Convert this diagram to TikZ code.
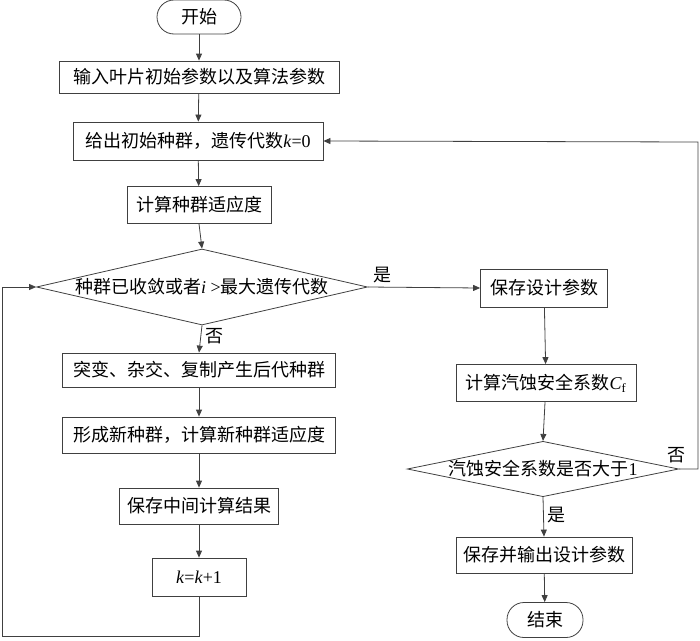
\documentclass[tikz,border=0pt]{standalone}
\usepackage{fontspec}
\setmainfont{Liberation Serif}
\newfontfamily\cjk{Noto Sans CJK SC}
\usetikzlibrary{shapes.geometric,arrows.meta}
\newcommand\en[1]{{\rmfamily #1}}
\begin{document}
\begin{tikzpicture}[x=1pt,y=-1pt]
        \tikzstyle{every node}=[font=\cjk\fontsize{18}{21}\selectfont, inner sep=0pt]
        \tikzstyle{box}=[draw=black!75, line width=0.8pt, rectangle, minimum height=36pt]
        \tikzstyle{term}=[box, rounded corners=17pt, minimum height=34pt]
        \tikzstyle{decide}=[draw=black!75, line width=0.8pt, diamond]
        \tikzstyle{line}=[draw=black!75, line width=0.8pt]
        \tikzstyle{arrow}=[line, -{Triangle[length=7pt,width=6pt]}]
        \useasboundingbox (0,0) rectangle (700,640);
        \node[term, minimum width=84pt] (start) at (199,17) {开始};
        \node[box, minimum width=280pt, minimum height=32pt] (input) at (199,77) {输入叶片初始参数以及算法参数};
        \node[box, minimum width=250pt, minimum height=38pt] (init) at (198,141) {给出初始种群，遗传代数\en{\textit{k}=0}};
        \node[box, minimum width=144pt, minimum height=37pt] (fit) at (199,205) {计算种群适应度};
        \node[decide, aspect=4.36, minimum width=331pt, minimum height=76pt] (conv) at (202,287) {种群已收敛或者\en{\textit{i} >}最大遗传代数};
        \node[box, minimum width=273pt, minimum height=34pt] (mutate) at (199,370) {突变、杂交、复制产生后代种群};
        \node[box, minimum width=273pt, minimum height=36pt] (newpop) at (199,435) {形成新种群，计算新种群适应度};
        \node[box, minimum width=159pt, minimum height=36pt] (keep) at (199,506) {保存中间计算结果};
        \node[box, minimum width=94pt, minimum height=38pt] (incr) at (199,577) {\en{\textit{k}=\textit{k}+1}};
        \node[box, minimum width=127pt, minimum height=38pt] (savepar) at (544,288) {保存设计参数};
        \node[box, minimum width=180pt, minimum height=37pt] (safety) at (546,383) {计算汽蚀安全系数\en{\textit{C}\textsubscript{f}}};
        \node[decide, aspect=4.9, minimum width=270pt, minimum height=55pt] (check) at (543,469) {汽蚀安全系数是否大于\en{1}};
        \node[box, minimum width=176pt, minimum height=36pt] (output) at (544,555) {保存并输出设计参数};
        \node[term, minimum width=76pt, minimum height=35pt] (stop) at (545,620) {结束};
        \coordinate (lb) at (2,636);
        \coordinate (rt) at (698,142);
        \draw[arrow] (start) -- (input);
        \draw[arrow] (input) -- (init);
        \draw[arrow] (init) -- (fit);
        \draw[arrow] (fit.south) -- (conv.north);
        \draw[arrow] (conv.east) -- node[above, pos=0.05, anchor=south west, yshift=4pt] {是} (savepar.west);
        \draw[arrow] (conv.south) -- node[right, pos=0.4, xshift=4pt] {否} (mutate.north);
        \draw[arrow] (mutate) -- (newpop);
        \draw[arrow] (newpop) -- (keep);
        \draw[arrow] (keep) -- (incr);
        \draw[arrow] (incr.south) |- (lb) |- (conv.west);
        \draw[arrow] (savepar) -- (safety);
        \draw[arrow] (safety) -- (check.north);
        \draw[arrow] (check.south) -- node[right, pos=0.45, xshift=4pt] {是} (output.north);
        \draw[arrow] (output) -- (stop);
        \draw[arrow] (check.east) -| (rt) -- (init.east);
        \node (no2) at (676,455) {否};
\end{tikzpicture}
\end{document}
